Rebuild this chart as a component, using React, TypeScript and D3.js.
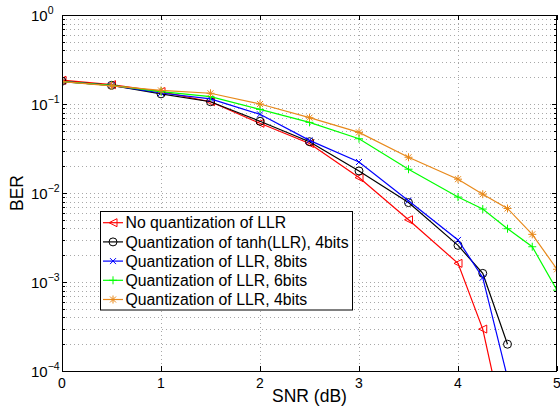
import { useEffect, useRef } from "react";
import * as d3 from "d3";

const snr = [0, 0.5, 1, 1.5, 2, 2.5, 3, 3.5, 4, 4.25, 4.5, 4.75, 5];

const berNoQuant = [0.185, 0.165, 0.138, 0.106, 0.0607, 0.036, 0.0149, 0.005, 0.00162, 0.000296, 0.000016, null, null];
const berTanh4 = [0.18, 0.162, 0.13, 0.106, 0.064, 0.0377, 0.0177, 0.0078, 0.00258, 0.00125, 0.0002, null, null];
const berLLR8 = [0.178, 0.162, 0.133, 0.114, 0.0766, 0.039, 0.0223, 0.0082, 0.00297, 0.00112, 0.000084, null, null];
const berLLR6 = [0.178, 0.162, 0.138, 0.121, 0.087, 0.0622, 0.0407, 0.0185, 0.009, 0.0066, 0.00397, 0.00249, 0.00081];
const berLLR4 = [0.178, 0.16, 0.142, 0.132, 0.1, 0.0702, 0.048, 0.0252, 0.0143, 0.0097, 0.0067, 0.00343, 0.00139];

const xTicks = [0, 1, 2, 3, 4, 5];
const yDecades = [0, -1, -2, -3, -4];

const series = [
  { name: "No quantization of LLR", values: berNoQuant, color: "#ff0000", marker: "tri" },
  { name: "Quantization of tanh(LLR), 4bits", values: berTanh4, color: "#000000", marker: "circle" },
  { name: "Quantization of LLR, 8bits", values: berLLR8, color: "#0000ff", marker: "x" },
  { name: "Quantization of LLR, 6bits", values: berLLR6, color: "#00ff00", marker: "plus" },
  { name: "Quantization of LLR, 4bits", values: berLLR4, color: "#e8891a", marker: "star" },
];

function drawMarker(g, type, cx, cy, color) {
  const m = g.append("g").attr("transform", `translate(${cx},${cy})`);
  const s = { fill: "none", stroke: color, "stroke-width": 1 };
  const seg = (x1, y1, x2, y2) => {
    const l = m.append("line").attr("x1", x1).attr("y1", y1).attr("x2", x2).attr("y2", y2);
    Object.entries(s).forEach(([k, v]) => l.attr(k, v));
  };
  if (type === "tri") {
    const p = m.append("path").attr("d", "M-4,0L4,-4L4,4Z");
    Object.entries(s).forEach(([k, v]) => p.attr(k, v));
  } else if (type === "circle") {
    const c = m.append("circle").attr("r", 4);
    Object.entries(s).forEach(([k, v]) => c.attr(k, v));
  } else if (type === "x") {
    seg(-3, -3, 3, 3);
    seg(-3, 3, 3, -3);
  } else if (type === "plus") {
    seg(-4, 0, 4, 0);
    seg(0, -4, 0, 4);
  } else if (type === "star") {
    seg(-4, 0, 4, 0);
    seg(0, -4, 0, 4);
    seg(-3, -3, 3, 3);
    seg(-3, 3, 3, -3);
  }
}

export default function App() {
  const svgRef = useRef(null);

  useEffect(() => {
    if (!svgRef.current) return;
    const svg = d3.select(svgRef.current);
    svg.selectAll("*").remove();

    const left = 62, right = 557, top = 15, bottom = 371;
    const font = "'Liberation Sans', Arial, Helvetica, sans-serif";

    const x = d3.scaleLinear().domain([0, 5]).range([left, right]);
    const y = d3.scaleLog().domain([1e-4, 1]).range([bottom, top]);

    svg.append("rect").attr("x", left).attr("y", top)
      .attr("width", right - left).attr("height", bottom - top).attr("fill", "#fff");

    svg.append("defs").append("clipPath").attr("id", "plotclip")
      .append("rect").attr("x", left).attr("y", top)
      .attr("width", right - left).attr("height", bottom - top);

    // minor + major y values
    const minor = [];
    yDecades.slice(1).forEach((d) => {
      for (let k = 2; k <= 9; k++) minor.push(k * Math.pow(10, d));
    });
    const major = yDecades.map((d) => Math.pow(10, d));

    const grid = svg.append("g").attr("stroke", "#a8a8a8").attr("stroke-width", 1)
      .attr("stroke-dasharray", "1,3");
    [...minor, ...major.slice(1, -1)].forEach((v) => {
      grid.append("line").attr("x1", left).attr("x2", right)
        .attr("y1", Math.round(y(v)) + 0.5).attr("y2", Math.round(y(v)) + 0.5);
    });
    xTicks.slice(1, -1).forEach((t) => {
      grid.append("line").attr("y1", top).attr("y2", bottom)
        .attr("x1", Math.round(x(t)) + 0.5).attr("x2", Math.round(x(t)) + 0.5);
    });

    // ticks
    const ticks = svg.append("g").attr("stroke", "#000").attr("stroke-width", 1);
    xTicks.forEach((t) => {
      const px = Math.round(x(t)) + 0.5;
      ticks.append("line").attr("x1", px).attr("x2", px).attr("y1", bottom).attr("y2", bottom - 5);
      ticks.append("line").attr("x1", px).attr("x2", px).attr("y1", top).attr("y2", top + 5);
    });
    major.forEach((v) => {
      const py = Math.round(y(v)) + 0.5;
      ticks.append("line").attr("x1", left).attr("x2", left + 5).attr("y1", py).attr("y2", py);
      ticks.append("line").attr("x1", right).attr("x2", right - 5).attr("y1", py).attr("y2", py);
    });
    minor.forEach((v) => {
      const py = Math.round(y(v)) + 0.5;
      ticks.append("line").attr("x1", left).attr("x2", left + 3).attr("y1", py).attr("y2", py);
      ticks.append("line").attr("x1", right).attr("x2", right - 3).attr("y1", py).attr("y2", py);
    });

    // series
    const plot = svg.append("g").attr("clip-path", "url(#plotclip)");
    const line = d3.line()
      .defined((d) => d[1] != null)
      .x((d) => x(d[0]))
      .y((d) => y(d[1]));

    series.forEach((s) => {
      const pts = snr.map((v, i) => [v, s.values[i]]);
      plot.append("path").attr("d", line(pts)).attr("fill", "none")
        .attr("stroke", s.color).attr("stroke-width", 1.2);
      pts.filter((p) => p[1] != null).forEach((p) => {
        drawMarker(plot, s.marker, x(p[0]), y(p[1]), s.color);
      });
    });

    // frame
    svg.append("rect").attr("x", left + 0.5).attr("y", top + 0.5)
      .attr("width", right - left - 1).attr("height", bottom - top)
      .attr("fill", "none").attr("stroke", "#000").attr("stroke-width", 1);

    // x tick labels
    xTicks.forEach((t) => {
      svg.append("text").attr("x", x(t)).attr("y", 388).attr("text-anchor", "middle")
        .attr("font-family", font).attr("font-size", 14).text(t);
    });

    // y tick labels
    yDecades.forEach((d) => {
      const tx = svg.append("text").attr("x", 31).attr("y", y(Math.pow(10, d)) + 5.5)
        .attr("font-family", font).attr("font-size", 15);
      tx.append("tspan").text("10");
      tx.append("tspan").attr("dy", -6.5).attr("font-size", 10.5).text(d === 0 ? "0" : "\u2212" + -d);
    });

    // axis labels
    svg.append("text").attr("x", (left + right) / 2).attr("y", 402)
      .attr("text-anchor", "middle").attr("font-family", font).attr("font-size", 17.5)
      .text("SNR (dB)");
    svg.append("text").attr("transform", `translate(23,${(top + bottom) / 2}) rotate(-90)`)
      .attr("text-anchor", "middle").attr("font-family", font).attr("font-size", 17.5)
      .text("BER");

    // legend
    const lg = svg.append("g");
    lg.append("rect").attr("x", 100.5).attr("y", 211.5).attr("width", 252).attr("height", 98.5)
      .attr("fill", "#fff").attr("stroke", "#000").attr("stroke-width", 1);
    series.forEach((s, i) => {
      const cy = 222.7 + i * 19.2;
      lg.append("line").attr("x1", 103).attr("x2", 123).attr("y1", cy).attr("y2", cy)
        .attr("stroke", s.color).attr("stroke-width", 1.2);
      drawMarker(lg, s.marker, 113, cy, s.color);
      lg.append("text").attr("x", 125.5).attr("y", cy + 5.6)
        .attr("font-family", font).attr("font-size", 15.8).text(s.name);
    });
  }, []);

  return (
    <svg
      ref={svgRef}
      width={560}
      height={411}
      style={{ position: "absolute", left: 0, top: 0, background: "#fff" }}
    />
  );
}
